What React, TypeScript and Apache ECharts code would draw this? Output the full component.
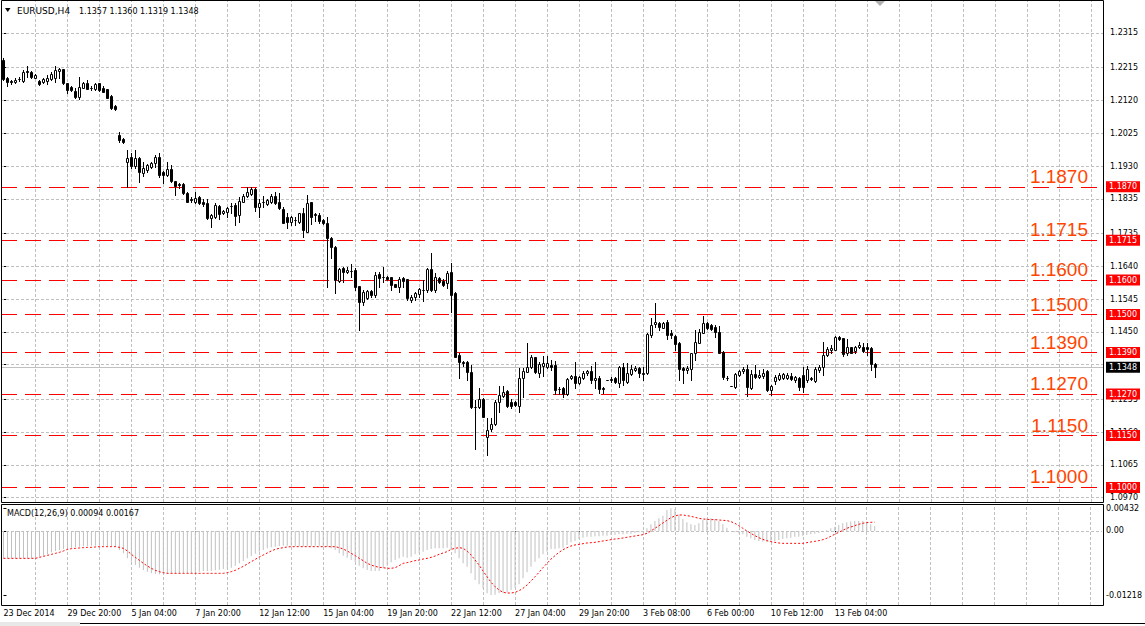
import React, { useEffect, useRef } from "react";
import * as echarts from "echarts";

const symbolTitle = "EURUSD,H4";
const lastBarText = "1.1357 1.1360 1.1319 1.1348";
const macdTitle = "MACD(12,26,9) 0.00094 0.00167";

const priceTicks = [1.2315, 1.2215, 1.212, 1.2025, 1.193, 1.1835, 1.1735, 1.164, 1.1545, 1.145, 1.1355, 1.1255, 1.116, 1.1065, 1.097];
const hiddenTickLabels = [1.1355];
const macdTicks = [0.00432, 0, -0.01218];
const timeLabels = ["23 Dec 2014", "29 Dec 20:00", "5 Jan 04:00", "7 Jan 20:00", "12 Jan 12:00", "15 Jan 04:00", "19 Jan 20:00", "22 Jan 12:00", "27 Jan 04:00", "29 Jan 20:00", "3 Feb 08:00", "6 Feb 00:00", "10 Feb 12:00", "13 Feb 04:00"];
const levels = [1.187, 1.1715, 1.16, 1.15, 1.139, 1.127, 1.115, 1.1];
const currentPrice = 1.1348;

// [open, high, low, close]
const ohlc: number[][] = [
  [1.2237, 1.2243, 1.2179, 1.2182], [1.2184, 1.2189, 1.2162, 1.2174], [1.2176, 1.2179, 1.2168, 1.2173], [1.2172, 1.2186, 1.2169, 1.218], [1.2182, 1.2188, 1.2176, 1.2183],
  [1.2177, 1.2208, 1.2174, 1.2203], [1.2205, 1.2219, 1.2189, 1.2202], [1.2203, 1.2205, 1.2186, 1.2189], [1.2186, 1.2195, 1.2185, 1.2193], [1.2176, 1.2179, 1.2165, 1.2168],
  [1.2174, 1.2185, 1.2171, 1.2182], [1.2176, 1.2193, 1.2167, 1.2186], [1.2182, 1.2203, 1.2179, 1.2195], [1.2186, 1.2219, 1.2173, 1.2208], [1.2205, 1.2215, 1.2186, 1.2211],
  [1.2211, 1.2212, 1.2168, 1.2169], [1.2169, 1.217, 1.2141, 1.215], [1.216, 1.2162, 1.2148, 1.215], [1.2147, 1.2155, 1.2128, 1.2131], [1.2129, 1.2188, 1.2124, 1.216],
  [1.2157, 1.2174, 1.2155, 1.2169], [1.2169, 1.2179, 1.2152, 1.2153], [1.2156, 1.2162, 1.215, 1.2155], [1.2152, 1.2169, 1.215, 1.2167], [1.2169, 1.2171, 1.2148, 1.215],
  [1.2157, 1.2162, 1.2144, 1.2145], [1.2152, 1.2154, 1.2126, 1.2128], [1.2134, 1.2136, 1.2095, 1.2097], [1.2104, 1.2107, 1.2092, 1.2094], [1.202, 1.2029, 1.2, 1.2005],
  [1.2008, 1.2012, 1.1998, 1.2], [1.1943, 1.1976, 1.1868, 1.1952], [1.1955, 1.1968, 1.1923, 1.1931], [1.1931, 1.1976, 1.1923, 1.1952], [1.1954, 1.1955, 1.1885, 1.1912],
  [1.191, 1.1941, 1.1902, 1.1923], [1.1918, 1.1937, 1.1914, 1.1933], [1.1928, 1.1942, 1.1925, 1.194], [1.194, 1.1962, 1.1928, 1.1957], [1.1957, 1.1967, 1.1899, 1.1904],
  [1.1913, 1.1915, 1.1881, 1.1904], [1.1904, 1.1943, 1.1902, 1.1921], [1.1921, 1.1933, 1.1885, 1.1887], [1.1887, 1.1888, 1.1846, 1.1873], [1.1878, 1.1882, 1.1866, 1.1875],
  [1.1877, 1.188, 1.1848, 1.1851], [1.1851, 1.1856, 1.1826, 1.1827], [1.1834, 1.1841, 1.1827, 1.1833], [1.1826, 1.1856, 1.1822, 1.1837], [1.1841, 1.1843, 1.1821, 1.1823],
  [1.1827, 1.1834, 1.1815, 1.1819], [1.1822, 1.1834, 1.1778, 1.1779], [1.1779, 1.179, 1.1753, 1.1788], [1.1783, 1.1822, 1.1779, 1.1817], [1.1814, 1.1817, 1.1776, 1.179],
  [1.1793, 1.1804, 1.179, 1.1801], [1.1798, 1.1812, 1.1783, 1.1808], [1.1814, 1.1822, 1.1795, 1.1815], [1.1818, 1.1822, 1.1759, 1.1785], [1.1787, 1.1841, 1.1769, 1.1829],
  [1.1827, 1.1849, 1.1825, 1.1843], [1.1843, 1.1868, 1.1841, 1.1856], [1.1849, 1.1868, 1.1846, 1.1863], [1.1863, 1.1866, 1.1801, 1.1811], [1.1811, 1.1834, 1.1783, 1.1824],
  [1.1826, 1.1843, 1.1811, 1.1827], [1.182, 1.1835, 1.1817, 1.1832], [1.1827, 1.1849, 1.1822, 1.1843], [1.1843, 1.1856, 1.182, 1.1822], [1.1827, 1.1853, 1.1805, 1.1808],
  [1.1805, 1.1811, 1.1764, 1.1766], [1.1783, 1.1795, 1.1751, 1.1769], [1.1769, 1.1785, 1.1759, 1.1783], [1.1774, 1.1782, 1.1759, 1.1773], [1.1769, 1.1795, 1.1764, 1.1793],
  [1.1793, 1.1808, 1.1725, 1.1745], [1.174, 1.1846, 1.1738, 1.1822], [1.1825, 1.1827, 1.1762, 1.1783], [1.179, 1.1793, 1.1772, 1.1789], [1.1788, 1.1793, 1.1766, 1.1771],
  [1.1774, 1.1777, 1.1762, 1.1764], [1.1764, 1.1783, 1.1581, 1.1721], [1.1721, 1.1724, 1.1664, 1.1697], [1.1697, 1.1699, 1.1563, 1.16], [1.1598, 1.1634, 1.1595, 1.1631],
  [1.1634, 1.1639, 1.1595, 1.1624], [1.1622, 1.1639, 1.162, 1.1629], [1.1626, 1.1647, 1.161, 1.1627], [1.1629, 1.1634, 1.1571, 1.1581], [1.1583, 1.1584, 1.1455, 1.1537],
  [1.1537, 1.1571, 1.1528, 1.1566], [1.1547, 1.1572, 1.1544, 1.1569], [1.1569, 1.1571, 1.1552, 1.1557], [1.1557, 1.1624, 1.1552, 1.1615], [1.1617, 1.1624, 1.1581, 1.1607],
  [1.1608, 1.1639, 1.1595, 1.1608], [1.161, 1.1612, 1.16, 1.1602], [1.1608, 1.161, 1.1571, 1.1586], [1.1588, 1.159, 1.1579, 1.1581], [1.1581, 1.161, 1.1566, 1.1602],
  [1.1605, 1.161, 1.1581, 1.1598], [1.1602, 1.1604, 1.1542, 1.1547], [1.1542, 1.1557, 1.1537, 1.1552], [1.1552, 1.1566, 1.1542, 1.1562], [1.156, 1.1577, 1.1552, 1.1573],
  [1.1572, 1.16, 1.154, 1.1571], [1.1571, 1.1634, 1.1566, 1.1631], [1.1631, 1.1677, 1.1569, 1.1571], [1.1571, 1.162, 1.1566, 1.1608], [1.1605, 1.1608, 1.1592, 1.1595],
  [1.1598, 1.1603, 1.1583, 1.1586], [1.1591, 1.1627, 1.1576, 1.1621], [1.1623, 1.1649, 1.1509, 1.1557], [1.1563, 1.1565, 1.1376, 1.1378], [1.1383, 1.1388, 1.1316, 1.1364],
  [1.1364, 1.1367, 1.135, 1.1359], [1.1364, 1.1366, 1.1311, 1.1335], [1.1335, 1.1354, 1.1229, 1.1232], [1.1234, 1.1253, 1.111, 1.1232], [1.1232, 1.1287, 1.1229, 1.1255],
  [1.1255, 1.1258, 1.1203, 1.1205], [1.1147, 1.12, 1.1094, 1.1166], [1.1168, 1.12, 1.1164, 1.1183], [1.1183, 1.1253, 1.1181, 1.1248], [1.1246, 1.1294, 1.1219, 1.1267],
  [1.1265, 1.1293, 1.1263, 1.1275], [1.1279, 1.1282, 1.1233, 1.1236], [1.1246, 1.1255, 1.1229, 1.1236], [1.1246, 1.125, 1.1235, 1.1238], [1.1236, 1.1345, 1.1219, 1.1316],
  [1.1316, 1.1346, 1.1262, 1.1337], [1.1335, 1.1419, 1.1333, 1.1349], [1.1349, 1.1383, 1.1345, 1.1378], [1.1376, 1.1378, 1.133, 1.1333], [1.133, 1.1364, 1.132, 1.1357],
  [1.135, 1.138, 1.1322, 1.136], [1.1348, 1.138, 1.1345, 1.1359], [1.1354, 1.1368, 1.134, 1.1349], [1.1354, 1.1367, 1.127, 1.1282], [1.1285, 1.1291, 1.127, 1.1284],
  [1.1287, 1.1291, 1.1262, 1.127], [1.127, 1.1316, 1.1267, 1.1313], [1.1316, 1.1325, 1.1313, 1.1322], [1.1322, 1.1364, 1.1287, 1.1301], [1.1301, 1.1322, 1.1298, 1.1319],
  [1.1316, 1.1338, 1.1313, 1.1332], [1.133, 1.134, 1.1325, 1.1337], [1.1337, 1.1351, 1.1301, 1.1311], [1.1311, 1.1364, 1.1287, 1.1318], [1.1318, 1.1322, 1.1274, 1.1284],
  [1.1287, 1.1291, 1.1272, 1.1286], [1.1311, 1.1312, 1.131, 1.1311], [1.1313, 1.132, 1.1306, 1.1312], [1.1316, 1.1319, 1.1302, 1.1306], [1.1303, 1.1351, 1.129, 1.1349],
  [1.1347, 1.1359, 1.1295, 1.1311], [1.1306, 1.1359, 1.1303, 1.133], [1.1327, 1.1354, 1.1325, 1.1342], [1.134, 1.1351, 1.1337, 1.1346], [1.1346, 1.1349, 1.132, 1.133],
  [1.133, 1.1349, 1.1311, 1.1329], [1.133, 1.1446, 1.1328, 1.1443], [1.1441, 1.1489, 1.1436, 1.1469], [1.1473, 1.1535, 1.1464, 1.1479], [1.1477, 1.148, 1.1455, 1.1463],
  [1.1462, 1.148, 1.146, 1.1477], [1.148, 1.1483, 1.1429, 1.1441], [1.1446, 1.1455, 1.1432, 1.1441], [1.1438, 1.1441, 1.1398, 1.1415], [1.1417, 1.142, 1.1311, 1.1342],
  [1.1346, 1.1349, 1.1301, 1.134], [1.134, 1.1351, 1.133, 1.1346], [1.1344, 1.139, 1.1311, 1.1388], [1.1388, 1.1455, 1.1369, 1.1422], [1.1419, 1.1458, 1.1417, 1.1451],
  [1.1448, 1.1495, 1.1446, 1.1475], [1.1475, 1.148, 1.1458, 1.1461], [1.147, 1.1472, 1.1456, 1.1458], [1.1463, 1.147, 1.1436, 1.1451], [1.1451, 1.1466, 1.1388, 1.139],
  [1.1393, 1.1395, 1.1313, 1.1319], [1.1318, 1.1322, 1.1311, 1.1317], [1.1293, 1.1294, 1.1292, 1.1293], [1.129, 1.133, 1.1289, 1.1328], [1.1325, 1.134, 1.1322, 1.1338],
  [1.1337, 1.1349, 1.133, 1.1343], [1.1343, 1.1354, 1.1264, 1.129], [1.1287, 1.134, 1.1285, 1.1327], [1.1327, 1.1354, 1.1316, 1.1319], [1.1319, 1.134, 1.1316, 1.1325],
  [1.1322, 1.1342, 1.1316, 1.1331], [1.1337, 1.134, 1.128, 1.1282], [1.1282, 1.1296, 1.1267, 1.1293], [1.1309, 1.1325, 1.13, 1.1319], [1.1313, 1.133, 1.131, 1.1325],
  [1.1318, 1.1331, 1.1314, 1.1327], [1.1318, 1.133, 1.1314, 1.1325], [1.1322, 1.133, 1.1311, 1.1313], [1.1311, 1.1322, 1.1305, 1.1319], [1.1316, 1.1319, 1.1282, 1.129],
  [1.1325, 1.1349, 1.1277, 1.1291], [1.1311, 1.1351, 1.1306, 1.1342], [1.1316, 1.132, 1.1311, 1.1315], [1.1309, 1.1349, 1.1306, 1.1342], [1.1339, 1.1354, 1.1334, 1.1349],
  [1.1349, 1.1422, 1.1325, 1.1383], [1.1383, 1.1407, 1.138, 1.14], [1.1398, 1.1412, 1.1388, 1.1404], [1.1398, 1.1438, 1.1397, 1.1436], [1.1434, 1.1438, 1.1426, 1.1428],
  [1.1431, 1.1432, 1.138, 1.1386], [1.1388, 1.1428, 1.1383, 1.1405], [1.1405, 1.1407, 1.1388, 1.139], [1.1396, 1.1409, 1.1388, 1.1405], [1.1405, 1.142, 1.1402, 1.1412],
  [1.1407, 1.1417, 1.1393, 1.1396], [1.1405, 1.1417, 1.1383, 1.14], [1.1402, 1.1407, 1.134, 1.1357], [1.1357, 1.136, 1.1319, 1.1348],
];

const macd = [
  -0.0052, -0.0052, -0.0052, -0.0052, -0.0052, -0.0052, -0.0052, -0.0052, -0.00507, -0.00488,
  -0.00469, -0.00444, -0.00406, -0.0038, -0.00361, -0.00342, -0.0033, -0.00317, -0.00304, -0.00298,
  -0.00292, -0.00285, -0.00279, -0.00279, -0.00279, -0.00279, -0.00285, -0.00292, -0.00298, -0.00361,
  -0.00425, -0.0052, -0.00583, -0.00647, -0.00697, -0.00742, -0.00773, -0.00805, -0.00818, -0.00824,
  -0.00824, -0.00812, -0.00812, -0.00812, -0.00812, -0.00805, -0.00805, -0.00799, -0.00786, -0.00773,
  -0.00761, -0.00761, -0.00761, -0.00748, -0.00735, -0.00723, -0.0071, -0.00697, -0.00659, -0.00615,
  -0.00571, -0.0052, -0.00476, -0.00431, -0.00393, -0.00361, -0.0033, -0.00311, -0.00298, -0.00285,
  -0.00279, -0.00279, -0.00279, -0.00285, -0.00285, -0.00292, -0.00285, -0.00279, -0.00279, -0.00279,
  -0.00285, -0.00298, -0.0033, -0.00361, -0.00425, -0.0047, -0.00507, -0.00552, -0.00596, -0.00659,
  -0.0071, -0.00742, -0.00761, -0.00761, -0.00761, -0.0071, -0.00659, -0.00596, -0.00552, -0.0052,
  -0.00488, -0.00507, -0.00488, -0.00444, -0.00425, -0.00393, -0.00361, -0.00342, -0.0033, -0.0033,
  -0.0033, -0.00317, -0.00342, -0.00425, -0.0052, -0.00615, -0.00678, -0.00805, -0.00932, -0.01014,
  -0.0109, -0.01186, -0.01218, -0.01212, -0.01186, -0.01186, -0.01167, -0.01122, -0.01078, -0.01014,
  -0.009, -0.00786, -0.00678, -0.00583, -0.0052, -0.00444, -0.00393, -0.00342, -0.00342, -0.0033,
  -0.00317, -0.00266, -0.00216, -0.0019, -0.00152, -0.00127, -0.00108, -0.00108, -0.00101, -0.00101,
  -0.00089, -0.00089, -0.00076, -0.00076, -0.00063, -0.00063, -0.00051, -0.00051, -0.00038, -0.00025,
  -0.00025, 0.00051, 0.00127, 0.0019, 0.00241, 0.00292, 0.004, 0.00432, 0.0042, 0.00317,
  0.00228, 0.00165, 0.00127, 0.00114, 0.00146, 0.00209, 0.00241, 0.00241, 0.00228, 0.0019,
  0.00127, 0.00063, 0, -0.00025, -0.00044, -0.00063, -0.00108, -0.00139, -0.00171, -0.0019,
  -0.00203, -0.00203, -0.00203, -0.0019, -0.00171, -0.00152, -0.00139, -0.00127, -0.00108, -0.00108,
  -0.00089, -0.00076, -0.00063, -0.00051, -0.00038, -0.00013, 0.00013, 0.00051, 0.00082, 0.00114,
  0.00146, 0.00165, 0.00178, 0.0019, 0.0019, 0.0019, 0.00178, 0.00127, 0.00094,
];

const signal = [
  -0.0052, -0.0052, -0.0052, -0.0052, -0.0052, -0.0052, -0.0052, -0.0052, -0.0052, -0.00501,
  -0.00482, -0.00463, -0.00444, -0.00425, -0.00406, -0.0038, -0.00349, -0.00336, -0.0033, -0.00323,
  -0.00317, -0.00311, -0.00311, -0.00304, -0.00298, -0.00298, -0.00298, -0.00298, -0.00298, -0.00311,
  -0.0033, -0.0038, -0.00444, -0.00501, -0.00558, -0.00615, -0.00666, -0.0071, -0.00748, -0.00773,
  -0.00793, -0.00805, -0.00805, -0.00805, -0.00805, -0.00805, -0.00805, -0.00805, -0.00805, -0.00805,
  -0.00805, -0.00805, -0.00805, -0.00805, -0.00805, -0.00805, -0.00793, -0.00773, -0.00748, -0.0071,
  -0.00672, -0.00628, -0.00583, -0.00539, -0.00495, -0.00456, -0.00418, -0.0038, -0.00349, -0.0033,
  -0.00317, -0.00304, -0.00298, -0.00298, -0.00298, -0.00298, -0.00298, -0.00298, -0.00298, -0.00298,
  -0.00298, -0.00298, -0.00298, -0.00298, -0.00317, -0.00342, -0.0038, -0.00425, -0.00469, -0.0052,
  -0.00564, -0.00615, -0.00647, -0.00672, -0.00691, -0.00697, -0.0071, -0.0071, -0.00697, -0.00659,
  -0.00615, -0.00602, -0.00583, -0.00564, -0.00552, -0.00533, -0.0052, -0.00501, -0.00476, -0.00444,
  -0.00418, -0.00393, -0.00349, -0.0033, -0.00317, -0.0033, -0.0038, -0.00456, -0.00552, -0.00647,
  -0.00761, -0.00869, -0.00976, -0.01059, -0.01122, -0.01167, -0.01179, -0.01179, -0.01167, -0.01135,
  -0.0109, -0.01027, -0.00951, -0.00869, -0.00786, -0.00697, -0.00615, -0.00533, -0.00469, -0.00406,
  -0.00355, -0.00317, -0.00285, -0.00266, -0.00254, -0.00241, -0.00228, -0.00222, -0.00216, -0.00203,
  -0.0019, -0.00178, -0.00165, -0.00152, -0.00146, -0.00133, -0.0012, -0.00108, -0.00095, -0.00082,
  -0.0007, -0.00044, 0, 0.00051, 0.00101, 0.00152, 0.00203, 0.00254, 0.00285, 0.00304,
  0.00304, 0.00292, 0.00279, 0.0026, 0.00241, 0.00228, 0.00222, 0.00216, 0.00216, 0.00209,
  0.00203, 0.00197, 0.00178, 0.00146, 0.00101, 0.00051, 0, -0.00044, -0.00089, -0.00127,
  -0.00159, -0.00184, -0.00203, -0.00216, -0.00228, -0.00235, -0.00235, -0.00235, -0.00235, -0.00235,
  -0.00235, -0.00222, -0.00209, -0.00197, -0.00184, -0.00165, -0.00139, -0.00101, -0.00063, -0.00025,
  0.00013, 0.00051, 0.00076, 0.00101, 0.00127, 0.00146, 0.00159, 0.00165, 0.00167,
];

const BARS_PER_LABEL = 16;
const BARS_PER_GRID = 8;
const X_MIN = -0.625;
const X_MAX = 274.875;
const FONT = "'DejaVu Sans', Tahoma, sans-serif";

function buildOption(): any {
  const labelPos = timeLabels.map((_, k) => k * BARS_PER_LABEL);
  const vGrid: number[] = [];
  for (let i = BARS_PER_GRID; i <= X_MAX; i += BARS_PER_GRID) vGrid.push(i);
  const candleData = ohlc.map((c, i) => [i, c[0], c[1], c[2], c[3]]);
  const shownPriceLabels = priceTicks.filter((v) => !hiddenTickLabels.includes(v));

  const gridLine = { color: "#c0c0c0", width: 1, type: [3, 2] };
  const tagLabel = (bg: string) => ({
    show: true,
    position: "end",
    distance: 3,
    formatter: (p: any) => Number(p.value).toFixed(4),
    backgroundColor: bg,
    color: "#fff",
    fontFamily: FONT,
    fontSize: 8,
    lineHeight: 10,
    padding: [1, 3, 0, 3],
  });

  return {
    animation: false,
    backgroundColor: "#fff",
    grid: [
      { left: 1, top: 1, width: 1102, height: 501 },
      { left: 1, top: 504, width: 1102, height: 101 },
    ],
    xAxis: [
      { type: "value", gridIndex: 0, min: X_MIN, max: X_MAX, show: false },
      {
        type: "value", gridIndex: 1, min: X_MIN, max: X_MAX,
        axisLine: { show: false },
        splitLine: { show: false },
        axisTick: { show: true, customValues: labelPos, length: 4, lineStyle: { color: "#000" } },
        axisLabel: {
          customValues: labelPos,
          formatter: (v: number) => timeLabels[Math.round(v / BARS_PER_LABEL)] ?? "",
          align: "left", margin: 4, color: "#000", fontFamily: FONT, fontSize: 8,
        },
      },
    ],
    yAxis: [
      {
        type: "value", gridIndex: 0, position: "right", min: 1.09577, max: 1.24076,
        axisLine: { show: false }, splitLine: { show: false },
        axisTick: { show: true, customValues: priceTicks, length: 4, lineStyle: { color: "#000" } },
        axisLabel: { customValues: shownPriceLabels, formatter: (v: number) => v.toFixed(4), margin: 7, color: "#000", fontFamily: FONT, fontSize: 8 },
      },
      {
        type: "value", gridIndex: 1, position: "right", min: -0.01407, max: 0.00513,
        axisLine: { show: false }, splitLine: { show: false },
        axisTick: { show: true, customValues: macdTicks, length: 3, lineStyle: { color: "#000" } },
        axisLabel: { customValues: macdTicks, formatter: (v: number) => (v === 0 ? "0.00" : v.toFixed(5)), margin: 4, color: "#000", fontFamily: FONT, fontSize: 8 },
      },
    ],
    series: [
      {
        type: "line", xAxisIndex: 0, yAxisIndex: 0, data: [], silent: true,
        markLine: {
          z: 1, silent: true, precision: 6, symbol: ["none", "none"], label: { show: false }, lineStyle: gridLine,
          data: [...priceTicks.map((v) => ({ yAxis: v })), ...vGrid.map((i) => ({ xAxis: i }))],
        },
      },
      {
        type: "line", xAxisIndex: 0, yAxisIndex: 0, data: [], silent: true,
        markLine: {
          z: 1, silent: true, precision: 6, symbol: ["none", "none"],
          lineStyle: { color: "#c0c0c0", width: 1, type: "solid" },
          label: tagLabel("#000"),
          data: [{ yAxis: currentPrice }],
        },
      },
      {
        type: "line", xAxisIndex: 0, yAxisIndex: 0, data: [], silent: true,
        markLine: {
          z: 2, silent: true, precision: 6, symbol: ["none", "none"],
          lineStyle: { color: "#ff0000", width: 1, type: [16, 8] },
          label: tagLabel("#ff0000"),
          data: levels.map((v) => ({ yAxis: v })),
        },
      },
      {
        type: "custom", xAxisIndex: 0, yAxisIndex: 0, z: 3, clip: true,
        encode: { x: 0, y: [1, 2, 3, 4] },
        data: candleData,
        renderItem: (params: any, api: any) => {
          const i = api.value(0);
          const o = api.value(1), h = api.value(2), l = api.value(3), c = api.value(4);
          const pO = api.coord([i, o]);
          const pC = api.coord([i, c]);
          const pH = api.coord([i, h]);
          const pL = api.coord([i, l]);
          const cx = Math.floor(pO[0]) + 0.5;
          const top = Math.round(Math.min(pO[1], pC[1])) + 0.5;
          const bot = Math.round(Math.max(pO[1], pC[1])) + 0.5;
          const up = c >= o;
          return {
            type: "group",
            children: [
              { type: "line", shape: { x1: cx, y1: Math.round(pH[1]), x2: cx, y2: Math.round(pL[1]) + 1 }, style: { stroke: "#000", lineWidth: 1 } },
              { type: "rect", shape: { x: cx - 1, y: top, width: 2, height: bot - top }, style: { fill: up ? "#fff" : "#000", stroke: "#000", lineWidth: 1 } },
            ],
          };
        },
      },
      {
        type: "line", xAxisIndex: 0, yAxisIndex: 0, data: [], silent: true,
        markLine: {
          z: 10, silent: true, precision: 6, symbol: ["none", "none"],
          lineStyle: { color: "rgba(0,0,0,0)", width: 1 },
          label: {
            show: true, position: "insideEndTop", distance: 1,
            formatter: (p: any) => Number(p.value).toFixed(4),
            color: "#ff4500", fontFamily: "'Liberation Sans', Arial, sans-serif", fontSize: 19, lineHeight: 19,
            padding: [0, 14, 0, 0],
          },
          data: levels.map((v) => ({ yAxis: v })),
        },
      },
      {
        type: "line", xAxisIndex: 1, yAxisIndex: 1, data: [], silent: true,
        markLine: {
          z: 1, silent: true, precision: 6, symbol: ["none", "none"], label: { show: false }, lineStyle: gridLine,
          data: [{ yAxis: 0 }, ...vGrid.map((i) => ({ xAxis: i }))],
        },
      },
      {
        type: "bar", xAxisIndex: 1, yAxisIndex: 1, z: 2, silent: true,
        data: macd.map((v, i) => [i, v]), barWidth: 1,
        itemStyle: { color: "#c0c0c0" },
      },
      {
        type: "line", xAxisIndex: 1, yAxisIndex: 1, z: 3, silent: true,
        data: signal.map((v, i) => [i, v]), symbol: "none",
        lineStyle: { color: "#ff0000", width: 1, type: [2, 2] },
      },
    ],
    graphic: [
      { type: "rect", z: 100, silent: true, shape: { x: 1.5, y: 0.5, width: 1102, height: 502 }, style: { fill: "none", stroke: "#000", lineWidth: 1 } },
      { type: "rect", z: 100, silent: true, shape: { x: 1.5, y: 504.5, width: 1102, height: 101 }, style: { fill: "none", stroke: "#000", lineWidth: 1 } },
      { type: "polygon", z: 100, silent: true, shape: { points: [[5, 8], [10.5, 8], [7.75, 12]] }, style: { fill: "#000" } },
      { type: "text", z: 100, silent: true, x: 17, y: 11, style: { text: symbolTitle, fill: "#000", font: `9px ${FONT}`, verticalAlign: "middle", textVerticalAlign: "middle" } },
      { type: "text", z: 100, silent: true, x: 79, y: 11, style: { text: lastBarText, fill: "#000", font: `8px ${FONT}`, verticalAlign: "middle", textVerticalAlign: "middle" } },
      { type: "text", z: 100, silent: true, x: 7, y: 513, style: { text: macdTitle, fill: "#000", font: `8px ${FONT}`, verticalAlign: "middle", textVerticalAlign: "middle" } },
      { type: "polygon", z: 100, silent: true, shape: { points: [[875, 1], [885, 1], [880, 6]] }, style: { fill: "#b0b0b0" } },
      { type: "rect", z: 100, silent: true, shape: { x: 0, y: 622, width: 80, height: 4 }, style: { fill: "#e8e8e8" } },
      { type: "line", z: 100, silent: true, shape: { x1: 80, y1: 623.5, x2: 1145, y2: 623.5 }, style: { stroke: "#000", lineWidth: 1 } },
    ],
  };
}

export default function App() {
  const ref = useRef<HTMLDivElement>(null);
  useEffect(() => {
    if (!ref.current) return;
    const chart = echarts.init(ref.current, null, { renderer: "svg" });
    chart.setOption(buildOption());
    return () => chart.dispose();
  }, []);
  return <div ref={ref} style={{ position: "fixed", left: 0, top: 0, width: 1145, height: 626, background: "#fff" }} />;
}
